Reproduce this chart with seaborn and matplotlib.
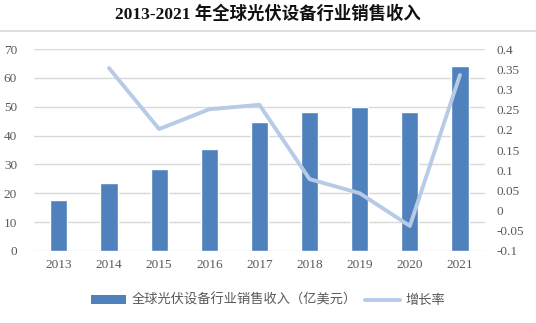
import matplotlib
matplotlib.use("Agg")
import matplotlib.pyplot as plt
import seaborn as sns
import pandas as pd
from matplotlib.lines import Line2D
from matplotlib.patches import Patch

years = ["2013", "2014", "2015", "2016", "2017", "2018", "2019", "2020", "2021"]
revenue = [17.7, 23.5, 28.3, 35.3, 44.6, 48.2, 49.9, 48.1, 64.1]
growth_years = ["2014", "2015", "2016", "2017", "2018", "2019", "2020", "2021"]
growth = [0.353, 0.202, 0.251, 0.262, 0.078, 0.043, -0.038, 0.336]
left_ticks = [0, 10, 20, 30, 40, 50, 60, 70]
right_ticks = [-0.1, -0.05, 0, 0.05, 0.1, 0.15, 0.2, 0.25, 0.3, 0.35, 0.4]
right_labels = ["-0.1", "-0.05", "0", "0.05", "0.1", "0.15", "0.2", "0.25", "0.3", "0.35", "0.4"]

sns.set_theme(style="white")
plt.rcParams['font.family'] = ['Liberation Serif', 'Noto Sans CJK SC']

bar_color = "#4F81BD"
line_color = "#B7CBE6"
tick_color = "#595959"

fig = plt.figure(figsize=(5.36, 3.23), dpi=100)
ax = fig.add_axes([0.063, 0.223, 0.842, 0.625])

df = pd.DataFrame({"year": years, "revenue": revenue})
sns.barplot(data=df, x="year", y="revenue", color=bar_color, width=0.34,
            saturation=1, ax=ax, zorder=3)
ax.set_xlim(-0.5, 8.5)
ax.set_ylim(0, 70)
ax.set_yticks(left_ticks)
ax.yaxis.grid(True, color="#D9D9D9", linewidth=1)
ax.set_axisbelow(True)
for s in ax.spines.values():
    s.set_visible(False)
ax.set_xlabel("")
ax.set_ylabel("")
ax.tick_params(axis="both", length=0, labelsize=9.5, colors=tick_color, pad=6)
ax.tick_params(axis="y", pad=12)

ax2 = ax.twinx()
pos = [years.index(y) for y in growth_years]
gdf = pd.DataFrame({"x": pos, "g": growth})
sns.lineplot(data=gdf, x="x", y="g", color=line_color, linewidth=2.8, ax=ax2,
             legend=False, zorder=4)
ax2.set_ylim(-0.1, 0.4)
ax2.set_yticks(right_ticks)
ax2.set_yticklabels(right_labels)
ax2.set_ylabel("")
ax2.set_xlabel("")
ax2.grid(False)
for s in ax2.spines.values():
    s.set_visible(False)
ax2.tick_params(axis="y", length=0, labelsize=9.5, colors=tick_color, pad=8)
ax.set_xlim(-0.5, 8.5)

fig.text(0.5, 0.955, "2013-2021 年全球光伏设备行业销售收入", ha="center", va="center",
         fontsize=12.5, fontweight="bold", color="#111111")
fig.add_artist(Line2D([0, 1], [0.905, 0.905], color="#D9D9D9", linewidth=1.2,
                      transform=fig.transFigure))

handles = [Patch(facecolor=bar_color, edgecolor="none"),
           Line2D([0], [0], color=line_color, linewidth=2.8)]
labels = ["全球光伏设备行业销售收入（亿美元）", "增长率"]
fig.legend(handles, labels, loc="center", bbox_to_anchor=(0.5, 0.07), ncol=2,
           frameon=False, fontsize=9.5, labelcolor=tick_color, handlelength=2.7,
           handleheight=0.6, columnspacing=0.6, handletextpad=0.4)

fig.savefig("out.png", dpi=100)
